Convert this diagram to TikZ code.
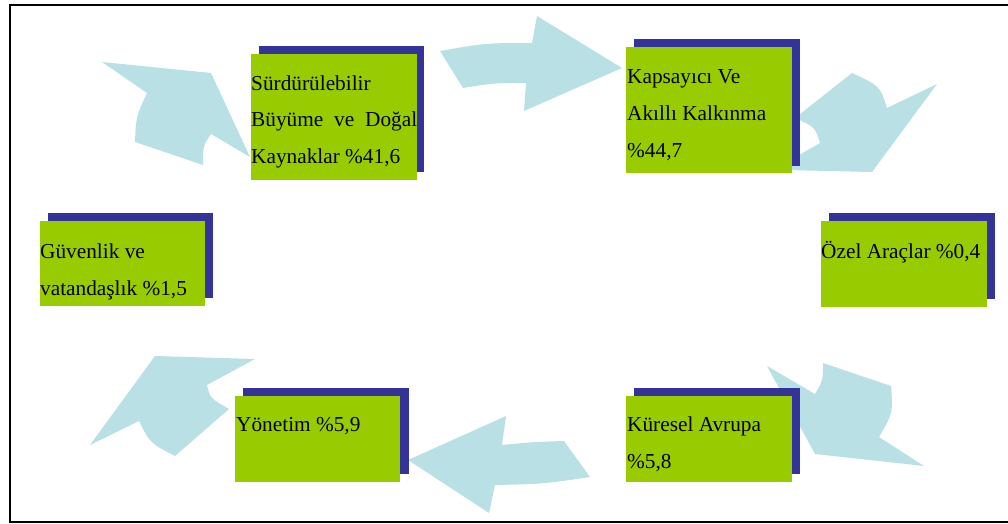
\documentclass[tikz,border=0pt]{standalone}
\usepackage{fontspec}
\setmainfont{Liberation Serif}
\definecolor{arrowblue}{RGB}{185,224,228}
\definecolor{boxgreen}{RGB}{153,204,0}
\definecolor{boxnavy}{RGB}{51,51,153}
\tikzset{
  blockarrow/.style={fill=arrowblue},
  shadowpart/.style={fill=boxnavy},
  greenpart/.style={fill=boxgreen},
  txt/.style={anchor=base west, inner sep=0pt, font=\fontsize{21.3}{25}\selectfont, text=black},
  frame/.style={draw=black, line width=2pt}
}
\begin{document}
\begin{tikzpicture}[x=1pt,y=-1pt]
\useasboundingbox (0,0) rectangle (1008,524);
\draw[frame] (1010,5) -- (10,5) -- (10,522) -- (1010,522);

% block arrows (behind the boxes)
\fill[blockarrow] (102,62) -- (211,73) -- (250,157) -- (211,134)
  .. controls (203,146) .. (203,165) -- (135,142)
  .. controls (136,117) .. (147,93) -- cycle;
\fill[blockarrow] (440,51) .. controls (486,43) .. (532,43) -- (537,16) -- (622,68)
  -- (524,111) -- (526,83) .. controls (494,83) .. (463,88) -- cycle;
\fill[blockarrow] (937,84) -- (887,108) .. controls (880,86) .. (852,73)
  -- (795,118) .. controls (815,127) .. (820,143) -- (785,163) -- (785,170)
  -- (872,172) -- cycle;
\fill[blockarrow] (767,366) -- (815,394) .. controls (823,380) .. (823,363)
  -- (891,386) .. controls (893,413) .. (879,437) -- (924,466) -- (815,454) -- cycle;
\fill[blockarrow] (408,460) -- (506,416) -- (502,445) .. controls (533,442) .. (564,441)
  -- (590,477) .. controls (543,484) .. (495,485) -- (489,513) -- cycle;
\fill[blockarrow] (255,359) -- (207,385) .. controls (210,398) .. (229,409)
  -- (175,456) .. controls (150,443) .. (139,421) -- (90,445) -- (155,356) -- cycle;

% boxes
\fill[shadowpart] (259,46) rectangle (424,172);
\fill[greenpart] (251,54) rectangle (417,180);
\node[txt] (s1) at (251,91) {Sürdürülebilir};
\node[txt] (s2) at (251,127) {\makebox[166pt][s]{Büyüme ve Doğal}};
\node[txt] (s3) at (251,163) {Kaynaklar \%41,6};

\fill[shadowpart] (634,39) rectangle (800,166);
\fill[greenpart] (626,47) rectangle (792,173);
\node[txt] (k1) at (627,84) {Kapsayıcı Ve};
\node[txt] (k2) at (627,121) {Akıllı Kalkınma};
\node[txt] (k3) at (627,157) {\%44,7};

\fill[shadowpart] (48,213) rectangle (213,298);
\fill[greenpart] (40,221) rectangle (205,306);
\node[txt] (g1) at (40,258) {Güvenlik ve};
\node[txt] (g2) at (40,295) {vatandaşlık \%1,5};

\fill[shadowpart] (829,213) rectangle (995,299);
\fill[greenpart] (821,221) rectangle (987,307);
\node[txt] (o1) at (821,258) {Özel Araçlar \%0,4};

\fill[shadowpart] (243,388) rectangle (409,474);
\fill[greenpart] (235,396) rectangle (400,482);
\node[txt] (y1) at (236,431) {Yönetim \%5,9};

\fill[shadowpart] (634,388) rectangle (800,474);
\fill[greenpart] (626,396) rectangle (792,482);
\node[txt] (a1) at (627,431) {Küresel Avrupa};
\node[txt] (a2) at (627,468) {\%5,8};
\end{tikzpicture}
\end{document}
